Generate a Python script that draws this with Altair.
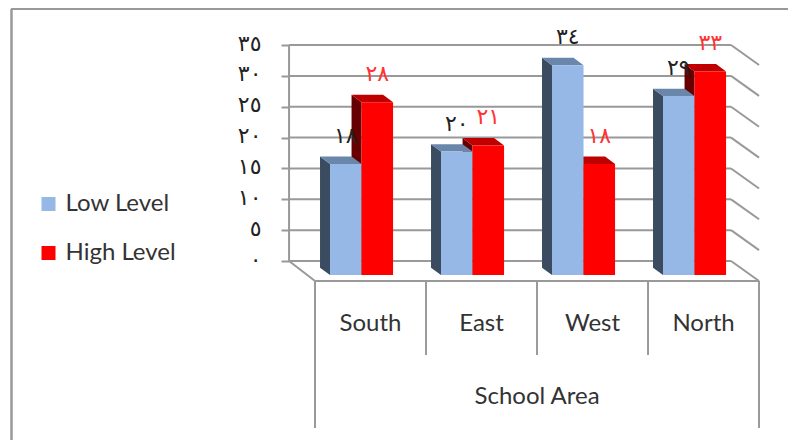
import altair as alt
import pandas as pd

categories = ["South", "East", "West", "North"]
low_values = [18, 20, 34, 29]
high_values = [28, 21, 18, 33]
low_labels = ["١٨", "٢٠", "٣٤", "٢٩"]
high_labels = ["٢٨", "٢١", "١٨", "٣٣"]
tick_values = [0, 5, 10, 15, 20, 25, 30, 35]
tick_labels = ["٠", "٥", "١٠", "١٥", "٢٠", "٢٥", "٣٠", "٣٥"]
series_names = ["Low Level", "High Level"]
axis_title = "School Area"

# projection of the fake 3-D box, in data units
WALL_DX, WALL_DY = -0.234, -3.24      # floor depth: front edge -> back wall
RIGHT_WALL = 3.748
BAR_DX, BAR_DY = -0.09, 1.2           # depth of each bar
BAR_START, BAR_W = 0.135, 0.284
BAR_BASE = -2.27
CAT_DROP, AREA_DROP = -15.23, -27.06
GRID = "#999999"
FONT = "Lato"
DIGITS = "DejaVu Sans"

x_scale = alt.Scale(domain=[-2.766, 4.261], nice=False, zero=False)
y_scale = alt.Scale(domain=[-29.0, 41.0], nice=False, zero=False)

# structural lines
segs = []
def seg(x0, y0, x1, y1):
    i = len(segs) // 2
    segs.append({"id": i, "x": x0, "y": y0})
    segs.append({"id": i, "x": x1, "y": y1})

for v in tick_values:
    seg(WALL_DX, v, RIGHT_WALL, v)
    seg(RIGHT_WALL, v, 4, v + WALL_DY)
seg(WALL_DX, 0, WALL_DX, 35)
seg(WALL_DX, 0, 0, WALL_DY)
seg(0, WALL_DY, 4, WALL_DY)
for i in range(5):
    seg(i, WALL_DY, i, AREA_DROP if i in (0, 4) else CAT_DROP)
seg_df = pd.DataFrame(segs)

# bars
fronts, sides, tops, labels = [], [], [], []
for s, (vals, labs) in enumerate([(low_values, low_labels), (high_values, high_labels)]):
    for i, (v, lab) in enumerate(zip(vals, labs)):
        x0 = i + BAR_START + s * BAR_W
        x1 = x0 + BAR_W
        t = v + BAR_BASE
        b = BAR_BASE
        key = f"{s}-{i}"
        fronts.append(dict(series=series_names[s], s=s, x=x0, x2=x1, y=t, y2=b))
        sides += [
            dict(key=key, s=s, x=x0 + BAR_DX, y=t + BAR_DY, y2=b + BAR_DY),
            dict(key=key, s=s, x=x0, y=t, y2=b),
        ]
        tops += [
            dict(key=key, s=s, x=x0 + BAR_DX, y=t + BAR_DY, y2=t + BAR_DY),
            dict(key=key, s=s, x=x0, y=t + BAR_DY, y2=t),
            dict(key=key, s=s, x=x1 + BAR_DX, y=t + BAR_DY, y2=t),
            dict(key=key, s=s, x=x1, y=t, y2=t),
        ]
        labels.append(dict(s=s, x=(x0 + x1) / 2, y=t, text=lab))
fronts, sides, tops, labels = map(pd.DataFrame, (fronts, sides, tops, labels))

label_expr = "[" + ",".join(f"'{t}'" for t in tick_labels) + "][datum.value/5]"

y_axis = alt.Axis(
    title=None, values=tick_values, labelExpr=label_expr, orient="left", offset=-281,
    domain=False, grid=False, ticks=True, tickSize=8, tickWidth=2, tickColor=GRID,
    labelPadding=20, labelFont=DIGITS, labelFontSize=22, labelColor="#222222", labelOffset=-2)

X = alt.X("x:Q", scale=x_scale, axis=None)
Y = alt.Y("y:Q", scale=y_scale, axis=y_axis)

lines = alt.Chart(seg_df).mark_line(color=GRID, strokeWidth=2).encode(x=X, y=Y, detail="id:N")


def faces(df, s, color):
    return alt.Chart(df[df.s == s]).mark_area(color=color, opacity=1, interpolate="linear").encode(
        x=X, y=Y, y2="y2:Q", detail="key:N")


front_layer = alt.Chart(fronts).mark_bar(opacity=1).encode(
    x=X, x2="x2:Q", y=Y, y2="y2:Q",
    color=alt.Color("series:N", scale=alt.Scale(domain=series_names, range=["#95b8e7", "#ff0000"]),
                    sort=series_names,
                    legend=alt.Legend(
                        title=None, orient="none", legendX=28.5, legendY=184, symbolType="square",
                        symbolSize=196, symbolStrokeWidth=0, labelFont=FONT, labelFontSize=24,
                        labelColor="#333333", rowPadding=25, labelOffset=5, symbolOpacity=1)),
)

low_text = alt.Chart(labels[labels.s == 0]).mark_text(
    font=DIGITS, fontSize=22, color="#222222", dy=-28, baseline="middle").encode(x=X, y=Y, text="text:N")
high_text = alt.Chart(labels[labels.s == 1]).mark_text(
    font=DIGITS, fontSize=22, color="#ff3333", dy=-28, baseline="middle").encode(x=X, y=Y, text="text:N")

cat_text = alt.Chart(pd.DataFrame({"x": [i + 0.5 for i in range(4)], "y": [-10.2] * 4, "t": categories})).mark_text(
    font=FONT, fontSize=24, color="#333333", baseline="middle").encode(x=X, y=Y, text="t:N")
title_text = alt.Chart(pd.DataFrame({"x": [2.0], "y": [-22.05], "t": [axis_title]})).mark_text(
    font=FONT, fontSize=24, color="#333333", baseline="middle").encode(x=X, y=Y, text="t:N")

frame_left = alt.Chart(pd.DataFrame({"a": [0]})).mark_rule(color="#999999", strokeWidth=2.5).encode(
    x=alt.value(3.5), y=alt.value(1), y2=alt.value(432))
frame_top = alt.Chart(pd.DataFrame({"a": [0]})).mark_rule(color="#999999", strokeWidth=2).encode(
    x=alt.value(3), x2=alt.value(780), y=alt.value(1))

chart = alt.layer(
    frame_left, frame_top, lines,
    faces(sides, 1, "#660000"), faces(tops, 1, "#bf0000"),
    faces(sides, 0, "#3b4b60"), faces(tops, 0, "#6a86ab"),
    front_layer, low_text, high_text, cat_text, title_text,
).resolve_scale(x="shared", y="shared").properties(
    width=780, height=432, padding=0, autosize="none", background="white"
).configure_view(stroke=None)

chart.save("out.html", embed_options={"renderer": "svg", "actions": False})
